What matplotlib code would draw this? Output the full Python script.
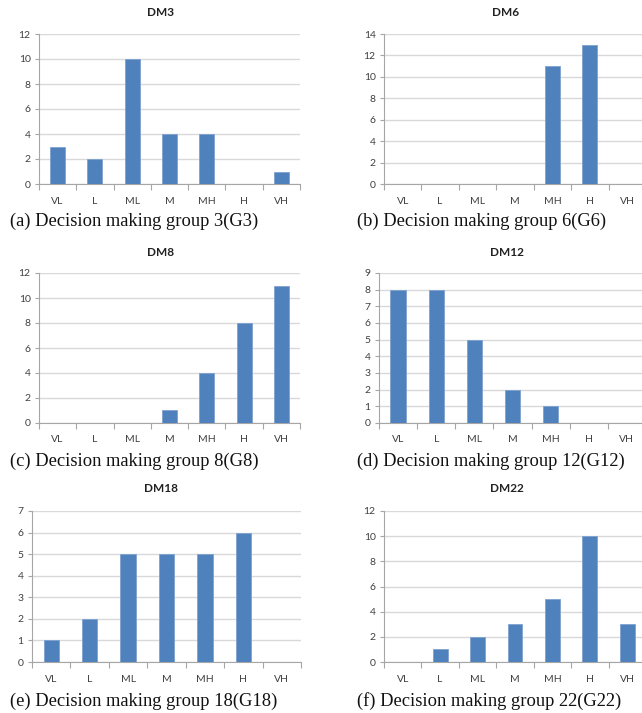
import matplotlib
matplotlib.use("Agg")
import matplotlib.pyplot as plt
import numpy as np

categories = ["VL", "L", "ML", "M", "MH", "H", "VH"]

dm3 = [3, 2, 10, 4, 4, 0, 1]
dm6 = [0, 0, 0, 0, 11, 13, 0]
dm8 = [0, 0, 0, 1, 4, 8, 11]
dm12 = [8, 8, 5, 2, 1, 0, 0]
dm18 = [1, 2, 5, 5, 5, 6, 0]
dm22 = [0, 1, 2, 3, 5, 10, 3]

titles = ["DM3", "DM6", "DM8", "DM12", "DM18", "DM22"]
captions = [
    "(a) Decision making group 3(G3)",
    "(b) Decision making group 6(G6)",
    "(c) Decision making group 8(G8)",
    "(d) Decision making group 12(G12)",
    "(e) Decision making group 18(G18)",
    "(f) Decision making group 22(G22)",
]
series = [dm3, dm6, dm8, dm12, dm18, dm22]
y_max = [12, 14, 12, 9, 7, 12]
y_step = [2, 2, 2, 1, 1, 2]

W, H = 642, 713
fig = plt.figure(figsize=(W / 100, H / 100), dpi=100)

# axes boxes in pixels: left, right, top, bottom
boxes = [
    (39, 300, 34, 184),
    (384, 646, 34, 184),
    (39, 300, 273, 423),
    (379, 646, 273, 423),
    (32, 301, 511, 662),
    (384, 646, 511, 662),
]
title_pos = [(161, 13), (506, 13), (161, 252), (507, 252), (161, 489), (507, 489)]
caption_pos = [(10, 221), (357, 221), (10, 461), (357, 461), (10, 701), (357, 701)]

bar_color = "#4F81BD"
grid_color = "#D9D9D9"
axis_color = "#A6A6A6"
text_color = "#404040"
tick_font = ["Lato", "DejaVu Sans"]

for i in range(6):
    l, r, t, b = boxes[i]
    ax = fig.add_axes([l / W, 1 - b / H, (r - l) / W, (b - t) / H])
    x = np.arange(len(categories))
    ax.bar(x, series[i], width=0.4, color=bar_color, edgecolor="#7FA2CF",
           linewidth=0.6, zorder=3)
    ax.set_xlim(-0.5, len(categories) - 0.5)
    ax.set_ylim(0, y_max[i])
    ax.set_yticks(np.arange(0, y_max[i] + 0.01, y_step[i]))
    ax.yaxis.grid(True, color=grid_color, linewidth=1.0, zorder=0)
    ax.set_axisbelow(True)
    for s in ["top", "right"]:
        ax.spines[s].set_visible(False)
    ax.spines["left"].set_color(axis_color)
    ax.spines["bottom"].set_color(axis_color)
    ax.spines["left"].set_linewidth(0.8)
    ax.spines["bottom"].set_linewidth(0.8)

    ax.set_xticks(x)
    ax.set_xticklabels(categories)
    ax.set_xticks(np.arange(-0.5, len(categories) + 0.5, 1.0), minor=True)
    ax.tick_params(axis="x", which="major", length=0, pad=9,
                   labelsize=7.5, labelcolor=text_color)
    ax.tick_params(axis="x", which="minor", length=4, width=0.8,
                   color=axis_color, direction="out")
    ax.tick_params(axis="y", which="major", length=3, width=0.8,
                   color=axis_color, pad=3, labelsize=7.5, labelcolor=text_color)
    for lab in ax.get_xticklabels() + ax.get_yticklabels():
        lab.set_family(tick_font)

    tx, ty = title_pos[i]
    fig.text(tx / W, 1 - ty / H, titles[i], ha="center", va="center",
             fontsize=8.5, fontweight="bold", color="#222222",
             family=tick_font)
    cx, cy = caption_pos[i]
    fig.text(cx / W, 1 - cy / H, captions[i], ha="left", va="center",
             fontsize=13.3, color="#111111", family=["Liberation Serif", "DejaVu Serif"])

fig.savefig("out.png", dpi=100, facecolor="white")
